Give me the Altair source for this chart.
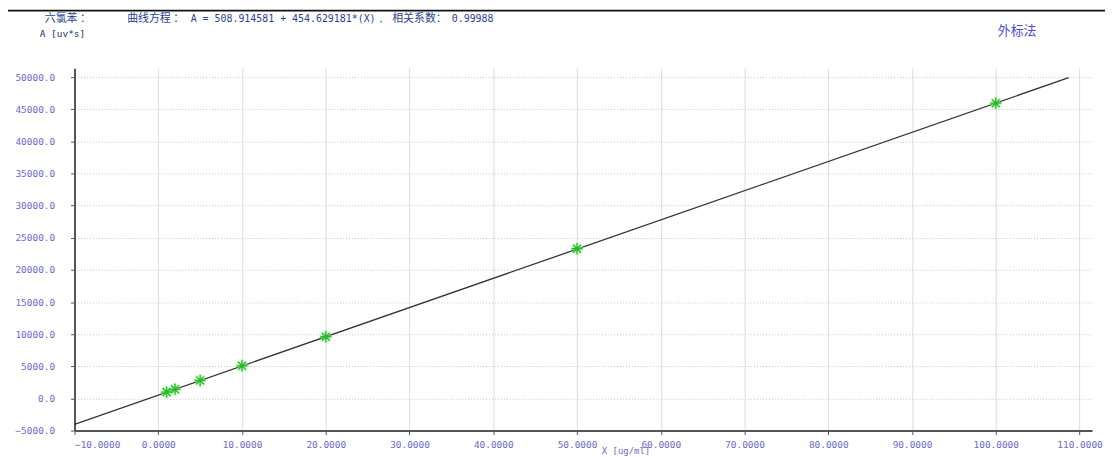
import altair as alt
import pandas as pd

# ---- data ----
std_conc = [1, 2, 5, 10, 20, 50, 100]
std_area = [980, 1420, 2800, 5080, 9600, 23300, 45950]

fit_x = [-10.0, 108.7]
fit_y = [-4037.4, 49927.0]

x_ticks = [-10, 0, 10, 20, 30, 40, 50, 60, 70, 80, 90, 100, 110]
y_ticks = [-5000, 0, 5000, 10000, 15000, 20000, 25000, 30000, 35000, 40000, 45000, 50000]

compound = "六氯苯 ："
eq_head = "曲线方程 ："
eq_body = "A = 508.914581 + 454.629181*(X)，"
r_head = "相关系数："
r_value = "0.99988"
y_title = "A [uv*s]"
x_title = "X [ug/ml]"
method = "外标法"

pts = pd.DataFrame({"x": std_conc, "y": std_area})
fit = pd.DataFrame({"x": fit_x, "y": fit_y})

W, H = 1025, 365
LABEL_COLOR = "#6b6bc8"
TEXT_COLOR = "#2a3f8f"
MONO = "DejaVu Sans Mono"
CJK = "Noto Sans CJK SC"

xs = alt.Scale(domain=[-10, 111.5], nice=False, zero=False)
ys = alt.Scale(domain=[-5000, 51400], nice=False, zero=False)

x_axis = alt.Axis(values=x_ticks, format=".4f", grid=True, gridColor="#dcdcdc", gridWidth=1,
                  domainColor="#555555", domainWidth=2, tickColor="#555555", tickSize=4,
                  labelColor=LABEL_COLOR, labelFont=MONO, labelFontSize=9.5, labelPadding=5,
                  labelOverlap=False,
                  title=x_title, titleFont=MONO, titleFontSize=9, titleFontWeight="normal",
                  titleColor=LABEL_COLOR, titleBaseline="top", titleY=16, titleX=555)
y_axis = alt.Axis(values=y_ticks, format=".1f", grid=True, gridColor="#c8c8c8", gridWidth=1,
                  gridDash=[1, 2], domainColor="#555555", domainWidth=2, tickColor="#555555",
                  tickSize=4, labelColor=LABEL_COLOR, labelFont=MONO, labelFontSize=9.5,
                  labelPadding=16, labelOverlap=False, title=None)

X = alt.X("x:Q", scale=xs, axis=x_axis)
Y = alt.Y("y:Q", scale=ys, axis=y_axis)

line = alt.Chart(fit).mark_line(color="#333333", strokeWidth=1.3, clip=False).encode(x=X, y=Y)

star = "M-1,0L1,0M0,-1L0,1M-0.7,-0.7L0.7,0.7M-0.7,0.7L0.7,-0.7"
halo = alt.Chart(pts).mark_point(shape=star, size=170, color="#9ef09e", strokeWidth=3,
                                 opacity=0.6, filled=False).encode(x=X, y=Y)
points = alt.Chart(pts).mark_point(shape=star, size=120, color="#22bb22", strokeWidth=1.3,
                                   filled=False, opacity=1).encode(x=X, y=Y)


def label(txt, x, y, size, color, font=CJK, weight="normal"):
    return alt.Chart(pd.DataFrame({"t": [txt]})).mark_text(
        align="left", baseline="middle", fontSize=size, color=color, font=font,
        fontWeight=weight).encode(x=alt.value(x), y=alt.value(y), text="t:N")


top_rule = alt.Chart(pd.DataFrame({"a": [0]})).mark_rule(color="#111111", strokeWidth=2).encode(
    x=alt.value(-67), x2=alt.value(1038), y=alt.value(-58))

texts = (
    label(compound, -30, -50, 11, TEXT_COLOR)
    + label(eq_head, 53, -50, 11, TEXT_COLOR)
    + label(eq_body, 117, -50, 10, TEXT_COLOR, font=MONO)
    + label(r_head, 320, -50, 11, TEXT_COLOR)
    + label(r_value, 380, -50, 10, TEXT_COLOR, font=MONO)
    + label(y_title, -35, -34, 9.5, "#203070", font=MONO)
    + label(method, 930, -37, 13, "#4a4ad0")
)

chart = alt.layer(line, halo, points, texts, top_rule).properties(
    width=W, height=H,
    padding={"left": 67, "top": 59, "right": 13, "bottom": 25},
    autosize=alt.AutoSizeParams(type="none"),
    background="white",
).configure_view(stroke=None).configure_axis(labelOverlap=False)

chart.save("out.html", embed_options={"renderer": "svg", "actions": False})
